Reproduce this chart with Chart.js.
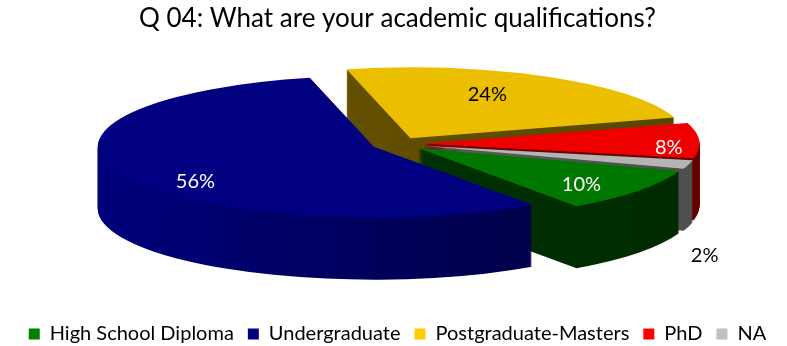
<!DOCTYPE html>
<html>
<head>
<meta charset="utf-8">
<script src="https://cdn.jsdelivr.net/npm/chart.js@4"></script>
<style>
  html, body { margin: 0; padding: 0; background: #fff; }
  #wrap { width: 787px; height: 346px; }
</style>
</head>
<body>
<div id="wrap"><canvas id="pie"></canvas></div>
<script>
const categories = ['High School Diploma', 'Undergraduate', 'Postgraduate-Masters', 'PhD', 'NA'];
const shares = [10, 56, 24, 8, 2];

const topColors = ['#007800', '#000080', '#ecbe00', '#ee0000', '#b4b4b4'];
const legendColors = ['#008000', '#000080', '#ffcc00', '#ff0000', '#c0c0c0'];
// side walls: light end (left) -> dark end (right)
const sideColors = [
  ['#003a00', '#002a00'],
  ['#00007c', '#000038'],
  ['#6c5600', '#584600'],
  ['#800000', '#640000'],
  ['#6c6c6c', '#4e4e4e']
];
const labelColors = ['#fff', '#fff', '#000', '#fff', '#000'];
// [radius fraction, angle tweak in degrees, extra drop in px]
const labelSpots = [
  [0.78, 3.7, 0],
  [0.81, -12.9, 0],
  [0.68, -5.6, 0],
  [0.89, 5.8, 0],
  [1.06, 0, 90]
];

const K = 0.257;      // vertical squash of the disc
const EXPLODE = 26;   // how far each slice is pulled out
const DEPTH = 62;     // thickness of the disc in px
const PIE_CY = 144;   // where the disc centre sits on the canvas

function squash(ctx, cx, cy) {
  ctx.translate(cx, cy);
  ctx.scale(1, K);
  ctx.translate(-cx, -cy);
}

function midAngle(arc) {
  return (arc.startAngle + arc.endAngle) / 2;
}

const pie3d = {
  id: 'pie3d',
  beforeDatasetsDraw(chart) {
    const ctx = chart.ctx;
    const arcs = chart.getDatasetMeta(0).data;
    const cx = arcs[0].x, cy = arcs[0].y, r = arcs[0].outerRadius;
    const sides = sideColors.map(([a, b]) => {
      const g = ctx.createLinearGradient(cx - r - EXPLODE, 0, cx + r + EXPLODE, 0);
      g.addColorStop(0, a);
      g.addColorStop(1, b);
      return g;
    });

    ctx.save();
    ctx.translate(0, PIE_CY - cy);

    // stack the walls from the bottom up
    for (let h = DEPTH; h >= 1; h--) {
      ctx.save();
      ctx.translate(0, h);
      squash(ctx, cx, cy);
      arcs.forEach((arc, i) => {
        const m = midAngle(arc);
        const ox = arc.x + Math.cos(m) * EXPLODE;
        const oy = arc.y + Math.sin(m) * EXPLODE;
        ctx.beginPath();
        ctx.moveTo(ox, oy);
        ctx.arc(ox, oy, arc.outerRadius, arc.startAngle, arc.endAngle);
        ctx.closePath();
        ctx.fillStyle = sides[i];
        ctx.fill();
      });
      ctx.restore();
    }

    // top faces
    squash(ctx, cx, cy);
    arcs.forEach(arc => {
      const m = midAngle(arc);
      ctx.save();
      ctx.translate(Math.cos(m) * EXPLODE, Math.sin(m) * EXPLODE);
      arc.draw(ctx);
      ctx.restore();
    });
    ctx.restore();
    return false;
  },
  afterDraw(chart) {
    const ctx = chart.ctx;
    const arcs = chart.getDatasetMeta(0).data;
    ctx.save();
    ctx.font = '20px Lato';
    ctx.textAlign = 'center';
    ctx.textBaseline = 'middle';
    arcs.forEach((arc, i) => {
      const [frac, turn, drop] = labelSpots[i];
      const m = midAngle(arc);
      const a = m + turn * Math.PI / 180;
      const x = arc.x + Math.cos(m) * EXPLODE + Math.cos(a) * frac * arc.outerRadius;
      const y = PIE_CY + K * (Math.sin(m) * EXPLODE + Math.sin(a) * frac * arc.outerRadius) + drop;
      ctx.fillStyle = labelColors[i];
      ctx.fillText(shares[i] + '%', x, y);
    });
    ctx.restore();
  }
};

new Chart(document.getElementById('pie'), {
  type: 'pie',
  data: {
    labels: categories,
    datasets: [{
      data: shares,
      backgroundColor: topColors,
      borderWidth: 0,
      radius: 276,
      clip: false
    }]
  },
  options: {
    responsive: true,
    maintainAspectRatio: false,
    animation: false,
    events: [],
    rotation: 109,
    layout: { padding: { left: 8, bottom: -8 } },
    plugins: {
      title: {
        display: true,
        text: 'Q 04: What are your academic qualifications?',
        color: '#000',
        font: { family: 'Lato', size: 26, weight: 'normal' },
        padding: { top: 3, bottom: 6 }
      },
      legend: {
        position: 'bottom',
        labels: {
          color: '#000',
          font: { family: 'Lato', size: 20 },
          boxWidth: 11,
          boxHeight: 11,
          padding: 14,
          generateLabels: () => categories.map((c, i) => ({
            text: c,
            fillStyle: legendColors[i],
            strokeStyle: legendColors[i],
            lineWidth: 0,
            hidden: false,
            index: i
          }))
        }
      },
      tooltip: { enabled: false }
    }
  },
  plugins: [pie3d]
});
</script>
</body>
</html>
